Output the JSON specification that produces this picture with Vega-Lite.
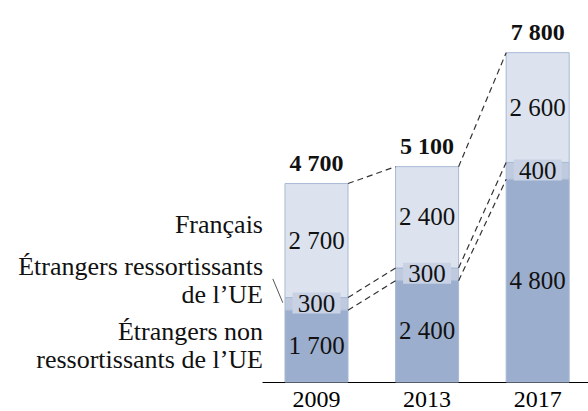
{
  "$schema": "https://vega.github.io/schema/vega-lite/v6.json",
  "width": 326,
  "height": 380,
  "autosize": {"type": "none"},
  "padding": {"left": 262, "top": 2, "right": 0, "bottom": 29},
  "background": "white",
  "config": {
    "view": {"stroke": null},
    "font": "'Liberation Serif', 'DejaVu Serif', serif",
    "text": {"font": "'Liberation Serif', 'DejaVu Serif', serif"},
    "axis": {"labelFont": "'Liberation Serif', 'DejaVu Serif', serif"},
    "locale": {"number": {"decimal": ",", "thousands": "\u00a0", "grouping": [3], "currency": ["", " €"]}}
  },
  "datasets": {
    "seg": [
      {"year": "2009", "rank": 1, "group": "Étrangers non\nressortissants de l’UE", "value": 1700},
      {"year": "2009", "rank": 2, "group": "Étrangers ressortissants\nde l’UE", "value": 300},
      {"year": "2009", "rank": 3, "group": "Français", "value": 2700},
      {"year": "2013", "rank": 1, "group": "Étrangers non\nressortissants de l’UE", "value": 2400},
      {"year": "2013", "rank": 2, "group": "Étrangers ressortissants\nde l’UE", "value": 300},
      {"year": "2013", "rank": 3, "group": "Français", "value": 2400},
      {"year": "2017", "rank": 1, "group": "Étrangers non\nressortissants de l’UE", "value": 4800},
      {"year": "2017", "rank": 2, "group": "Étrangers ressortissants\nde l’UE", "value": 400},
      {"year": "2017", "rank": 3, "group": "Français", "value": 2600}
    ],
    "links": [
      {"from": "2009", "to": "2013", "a": 4700, "b": 5100},
      {"from": "2009", "to": "2013", "a": 2000, "b": 2700},
      {"from": "2009", "to": "2013", "a": 1700, "b": 2400},
      {"from": "2013", "to": "2017", "a": 5100, "b": 7800},
      {"from": "2013", "to": "2017", "a": 2700, "b": 5200},
      {"from": "2013", "to": "2017", "a": 2400, "b": 4800}
    ]
  },
  "data": {"name": "seg"},
  "encoding": {
    "x": {
      "field": "year",
      "type": "nominal",
      "title": null,
      "scale": {"domain": ["2009", "2013", "2017"], "paddingInner": 0.43, "paddingOuter": 0.189, "align": 0.55},
      "axis": {
        "title": null,
        "domainColor": "#000000",
        "domainWidth": 1,
        "ticks": false,
        "tickSize": 0,
        "labelAngle": 0,
        "labelFontSize": 24,
        "labelColor": "#000000",
        "labelBaseline": "alphabetic",
        "labelPadding": 24,
        "grid": false
      }
    }
  },
  "layer": [
    {
      "transform": [
        {"stack": "value", "groupby": ["year"], "sort": [{"field": "rank", "order": "ascending"}], "as": ["v0", "v1"]}
      ],
      "mark": {"type": "bar", "stroke": "#a8b9d5", "strokeWidth": 1},
      "encoding": {
        "y": {"field": "v0", "type": "quantitative", "scale": {"domain": [0, 8910]}, "axis": null},
        "y2": {"field": "v1"},
        "color": {"field": "rank", "type": "nominal", "scale": {"domain": [1, 2, 3], "range": ["#9caecd", "#bfcadf", "#dce3ee"]}, "legend": null}
      }
    },
    {
      "transform": [
        {"stack": "value", "groupby": ["year"], "sort": [{"field": "rank", "order": "ascending"}], "as": ["v0", "v1"]},
        {"filter": "datum.rank == 2"},
        {"calculate": "(datum.v0 + datum.v1) / 2", "as": "mid"}
      ],
      "mark": {"type": "point", "shape": "M-1,-0.4375L1,-0.4375L1,0.4375L-1,0.4375Z", "size": 2304, "filled": true, "color": "#c8d2e4", "opacity": 1, "strokeWidth": 0, "yOffset": -1},
      "encoding": {
        "y": {"field": "mid", "type": "quantitative"}
      }
    },
    {
      "data": {"name": "links"},
      "mark": {"type": "rule", "strokeDash": [6, 4], "color": "#333333", "strokeWidth": 1.2, "xOffset": 31.5, "x2Offset": -31.5},
      "encoding": {
        "x": {"field": "from", "type": "nominal"},
        "x2": {"field": "to"},
        "y": {"field": "a", "type": "quantitative"},
        "y2": {"field": "b"}
      }
    },
    {
      "transform": [
        {"stack": "value", "groupby": ["year"], "sort": [{"field": "rank", "order": "ascending"}], "as": ["v0", "v1"]},
        {"calculate": "(datum.v0 + datum.v1) / 2", "as": "mid"}
      ],
      "mark": {"type": "text", "baseline": "middle", "align": "center", "fontSize": 25, "color": "#111111"},
      "encoding": {
        "y": {"field": "mid", "type": "quantitative"},
        "text": {"field": "value", "type": "quantitative", "format": ","}
      }
    },
    {
      "transform": [
        {"aggregate": [{"op": "sum", "field": "value", "as": "total"}], "groupby": ["year"]}
      ],
      "mark": {"type": "text", "baseline": "alphabetic", "align": "center", "fontSize": 24, "fontWeight": "bold", "dy": -13, "color": "#111111"},
      "encoding": {
        "y": {"field": "total", "type": "quantitative"},
        "text": {"field": "total", "type": "quantitative", "format": ","}
      }
    },
    {
      "transform": [
        {"stack": "value", "groupby": ["year"], "sort": [{"field": "rank", "order": "ascending"}], "as": ["v0", "v1"]},
        {"calculate": "(datum.v0 + datum.v1) / 2", "as": "mid"},
        {"filter": "datum.year == '2009' && datum.rank == 3"}
      ],
      "mark": {"type": "text", "baseline": "middle", "align": "right", "fontSize": 26, "dx": -53.5, "dy": -16, "lineBreak": "\n", "lineHeight": 28, "color": "#111111"},
      "encoding": {
        "y": {"field": "mid", "type": "quantitative"},
        "text": {"field": "group"}
      }
    },
    {
      "transform": [
        {"stack": "value", "groupby": ["year"], "sort": [{"field": "rank", "order": "ascending"}], "as": ["v0", "v1"]},
        {"calculate": "(datum.v0 + datum.v1) / 2", "as": "mid"},
        {"filter": "datum.year == '2009' && datum.rank == 2"}
      ],
      "mark": {"type": "text", "baseline": "middle", "align": "right", "fontSize": 26, "dx": -53.5, "dy": -37, "lineBreak": "\n", "lineHeight": 28, "color": "#111111"},
      "encoding": {
        "y": {"field": "mid", "type": "quantitative"},
        "text": {"field": "group"}
      }
    },
    {
      "transform": [
        {"stack": "value", "groupby": ["year"], "sort": [{"field": "rank", "order": "ascending"}], "as": ["v0", "v1"]},
        {"calculate": "(datum.v0 + datum.v1) / 2", "as": "mid"},
        {"filter": "datum.year == '2009' && datum.rank == 1"}
      ],
      "mark": {"type": "text", "baseline": "middle", "align": "right", "fontSize": 26, "dx": -53.5, "dy": -14, "lineBreak": "\n", "lineHeight": 28, "color": "#111111"},
      "encoding": {
        "y": {"field": "mid", "type": "quantitative"},
        "text": {"field": "group"}
      }
    },
    {
      "transform": [
        {"stack": "value", "groupby": ["year"], "sort": [{"field": "rank", "order": "ascending"}], "as": ["v0", "v1"]},
        {"filter": "datum.year == '2009' && datum.rank == 2"}
      ],
      "mark": {"type": "rule", "color": "#555555", "strokeWidth": 1, "xOffset": -43.7, "x2Offset": -33.7, "yOffset": -18.7, "y2Offset": -7.5},
      "encoding": {
        "x2": {"field": "year"},
        "y": {"field": "v1", "type": "quantitative"},
        "y2": {"field": "v0"}
      }
    }
  ]
}
